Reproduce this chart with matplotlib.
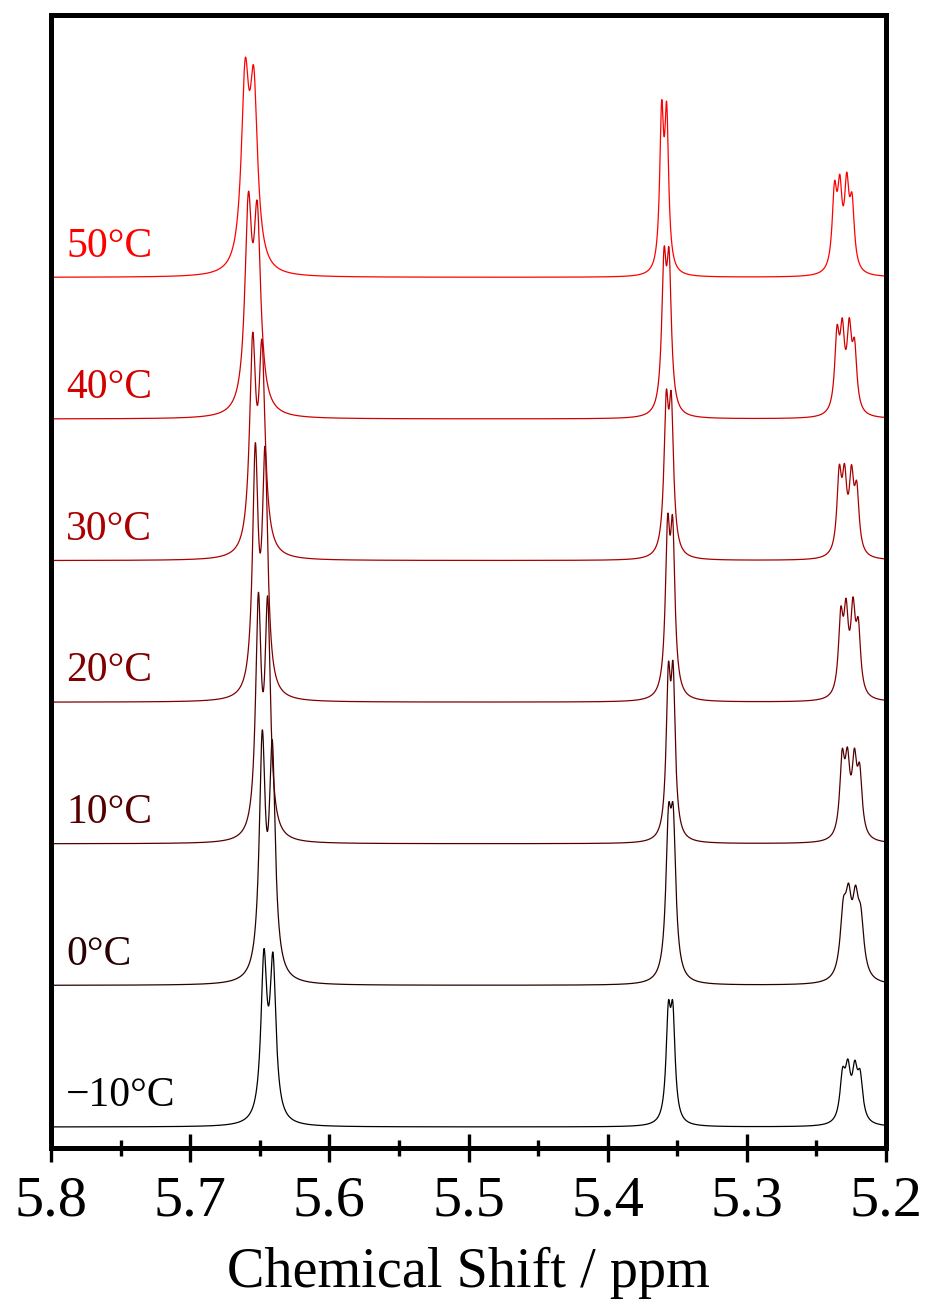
import numpy as np
import matplotlib

matplotlib.use("Agg")
import matplotlib.pyplot as plt

plt.rcParams["font.family"] = ["Liberation Serif", "DejaVu Serif"]

# variable-temperature 1H spectra, olefinic region
TEMPS = [-10, 0, 10, 20, 30, 40, 50]
TEMP_LABELS = ["\u221210\u00b0C", "0\u00b0C", "10\u00b0C", "20\u00b0C",
               "30\u00b0C", "40\u00b0C", "50\u00b0C"]

# doublet near 5.65 ppm: line positions (ppm), line heights, half-width (ppm)
P1_POS = [(5.6470, 5.6405), (5.6482, 5.6410), (5.6510, 5.6443),
          (5.6532, 5.6462), (5.6551, 5.6484), (5.6582, 5.6518),
          (5.6605, 5.6543)]
P1_AMP = [(157, 153), (230, 219), (226, 222), (235, 231),
          (201, 193), (194, 183), (181, 171)]
P1_HW = [0.0026, 0.0026, 0.0024, 0.0024, 0.0027, 0.0030, 0.0033]

# doublet near 5.36 ppm
P2_POS = [(5.3564, 5.3532), (5.3563, 5.3529), (5.3564, 5.3530),
          (5.3569, 5.3533), (5.3579, 5.3543), (5.3595, 5.3559),
          (5.3612, 5.3576)]
P2_AMP = [(98, 98), (137, 137), (146, 147), (152, 150),
          (138, 136), (139, 138), (150, 148)]
P2_HW = [0.0020, 0.0023, 0.0019, 0.0020, 0.0020, 0.0020, 0.0017]

# four-line multiplet near 5.23 ppm: centre, line heights, half-width
P3_CENTER = [5.2249, 5.2244, 5.2252, 5.2262, 5.2273, 5.2289, 5.2307]
P3_SPLIT = [0.0063, 0.0025, -0.0025, -0.0063]
P3_AMP = [(43, 46, 45, 41), (58, 64, 64, 50), (74, 66, 68, 59),
          (74, 74, 78, 62), (76, 68, 70, 59), (73, 72, 75, 59),
          (75, 73, 78, 62)]
P3_HW = [0.0023, 0.0027, 0.0021, 0.0020, 0.0020, 0.0020, 0.0020]

STEP = 141.6  # vertical offset between stacked traces
COLORS = ["#000000", "#2a0000", "#550000", "#800000", "#aa0000",
          "#d40000", "#ff0000"]


def lorentz(x, x0, h, hw):
    return h / (1.0 + ((x - x0) / hw) ** 2)


def spectrum(x, i):
    y = np.zeros_like(x)
    for x0, h in zip(P1_POS[i], P1_AMP[i]):
        y += lorentz(x, x0, h, P1_HW[i])
    for x0, h in zip(P2_POS[i], P2_AMP[i]):
        y += lorentz(x, x0, h, P2_HW[i])
    for dx, h in zip(P3_SPLIT, P3_AMP[i]):
        y += lorentz(x, P3_CENTER[i] + dx, h, P3_HW[i])
    return y


fig = plt.figure(figsize=(9.34, 13.06), dpi=100)
ax = fig.add_axes([51 / 934, 158 / 1306, 835 / 934, 1133 / 1306])

ppm = np.linspace(5.8, 5.2, 6000)
for i in range(len(TEMPS)):
    off = i * STEP
    ax.plot(ppm, spectrum(ppm, i) + off, color=COLORS[i], lw=0.9)
    ax.text(5.789, off + 31, TEMP_LABELS[i], color=COLORS[i],
            fontsize=30, ha="left", va="center")

ax.set_xlim(5.8, 5.2)
ax.set_ylim(-21, 1112)
ax.set_xticks([5.8, 5.7, 5.6, 5.5, 5.4, 5.3, 5.2])
ax.set_xticklabels(["5.8", "5.7", "5.6", "5.5", "5.4", "5.3", "5.2"])
ax.set_xticks([5.75, 5.65, 5.55, 5.45, 5.35, 5.25], minor=True)
ax.set_yticks([])
ax.tick_params(axis="x", which="major", direction="inout", length=20,
               width=2.4, labelsize=42, pad=10)
ax.tick_params(axis="x", which="minor", direction="inout", length=11,
               width=2.4)
for s in ax.spines.values():
    s.set_linewidth(3.6)
ax.set_xlabel("Chemical Shift / ppm", fontsize=40.5, labelpad=14)

fig.savefig("out.png", dpi=100)
